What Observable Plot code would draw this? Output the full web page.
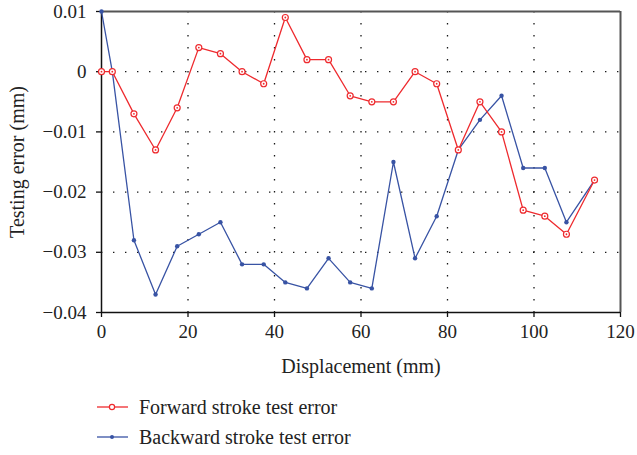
<!DOCTYPE html>
<html>
<head>
<meta charset="utf-8">
<script src="https://cdn.jsdelivr.net/npm/d3@7"></script>
<script src="https://cdn.jsdelivr.net/npm/@observablehq/plot@0.6"></script>
<style>
  body { margin: 0; background: #fff; font-family: "Liberation Serif", serif; }
  #chart { width: 637px; }
  #chart svg text { font-family: "Liberation Serif", serif; }
  .legend { position: relative; height: 70px; font-size: 20px; color: #222; }
  .row { position: absolute; left: 97px; display: flex; align-items: center; }
  .row svg { margin-right: 11px; }
</style>
</head>
<body>
<div id="chart"></div>
<script>
const displacement = [0, 2.5, 7.5, 12.5, 17.5, 22.5, 27.5, 32.5, 37.5, 42.5, 47.5, 52.5, 57.5, 62.5, 67.5, 72.5, 77.5, 82.5, 87.5, 92.5, 97.5, 102.5, 107.5, 114];
const forwardError = [0, 0, -0.007, -0.013, -0.006, 0.004, 0.003, 0, -0.002, 0.009, 0.002, 0.002, -0.004, -0.005, -0.005, 0, -0.002, -0.013, -0.005, -0.010, -0.023, -0.024, -0.027, -0.018];
const backwardError = [0.01, 0, -0.028, -0.037, -0.029, -0.027, -0.025, -0.032, -0.032, -0.035, -0.036, -0.031, -0.035, -0.036, -0.015, -0.031, -0.024, -0.013, -0.008, -0.004, -0.016, -0.016, -0.025, -0.018];
const xTicks = [0, 20, 40, 60, 80, 100, 120];
const yTicks = [0.01, 0, -0.01, -0.02, -0.03, -0.04];
const seriesNames = ["Forward stroke test error", "Backward stroke test error"];
const seriesColors = ["#ee2a2e", "#3853a4"];

const fwd = displacement.map((x, i) => ({x, y: forwardError[i]}));
const bwd = displacement.map((x, i) => ({x, y: backwardError[i]}));
const fmt = d => d === 0 ? "0" : d.toFixed(2).replace("-", "\u2212");
const dots = "1.4,10.6";
const font = "Liberation Serif";

const plot = Plot.plot({
  width: 637,
  height: 385,
  marginLeft: 101,
  marginRight: 17,
  marginTop: 11,
  marginBottom: 73,
  style: { fontFamily: font, fontSize: "19px", color: "#222", background: "#fff" },
  x: { domain: [0, 120] },
  y: { domain: [-0.04, 0.01] },
  marks: [
    Plot.gridX([20, 40, 60, 80, 100], { stroke: "#000", strokeOpacity: 0.9, strokeWidth: 1.3, strokeDasharray: dots }),
    Plot.gridY([0, -0.01, -0.02, -0.03], { stroke: "#000", strokeOpacity: 0.9, strokeWidth: 1.3, strokeDasharray: dots }),
    Plot.ruleY([0.01], { stroke: "#555", strokeWidth: 2 }),
    Plot.ruleX([120], { stroke: "#555", strokeWidth: 2 }),
    Plot.ruleY([-0.04], { stroke: "#111", strokeWidth: 1.5 }),
    Plot.ruleX([0], { stroke: "#111", strokeWidth: 1.5 }),
    Plot.axisX({ ticks: xTicks, tickSize: 5, tickPadding: 7, stroke: "#111", strokeWidth: 1.3, fontSize: 19, fontFamily: font, label: null }),
    Plot.axisY({ ticks: yTicks, tickSize: 5, tickPadding: 10, tickFormat: fmt, stroke: "#111", strokeWidth: 1.3, fontSize: 19, fontFamily: font, label: null }),
    Plot.text(["Displacement (mm)"], { frameAnchor: "bottom", dy: 60, fontSize: 20, fontFamily: font }),
    Plot.text(["Testing error (mm)"], { frameAnchor: "left", textAnchor: "middle", dx: -84, rotate: -90, fontSize: 20, fontFamily: font }),
    Plot.line(bwd, { x: "x", y: "y", stroke: seriesColors[1], strokeWidth: 1.3 }),
    Plot.dot(bwd, { x: "x", y: "y", r: 2.2, fill: seriesColors[1] }),
    Plot.line(fwd, { x: "x", y: "y", stroke: seriesColors[0], strokeWidth: 1.3 }),
    Plot.dot(fwd, { x: "x", y: "y", r: 3, fill: "white", stroke: seriesColors[0], strokeWidth: 1.2 }),
    Plot.dot(fwd, { x: "x", y: "y", r: 0.9, fill: seriesColors[0] })
  ]
});
const chart = document.getElementById("chart");
chart.appendChild(plot);

const legend = document.createElement("div");
legend.className = "legend";
seriesNames.forEach((name, i) => {
  const row = document.createElement("div");
  row.className = "row";
  row.style.top = (i === 0 ? 10 : 40) + "px";
  const marker = i === 0
    ? `<circle cx="15" cy="12" r="2.6" fill="white" stroke="${seriesColors[0]}" stroke-width="1.2"/>`
    : `<circle cx="15" cy="12" r="2" fill="${seriesColors[1]}"/>`;
  row.innerHTML = `<svg width="31" height="24"><line x1="0" x2="31" y1="12" y2="12" stroke="${seriesColors[i]}" stroke-width="1.3"/>${marker}</svg><span>${name}</span>`;
  legend.appendChild(row);
});
chart.appendChild(legend);
</script>
</body>
</html>
